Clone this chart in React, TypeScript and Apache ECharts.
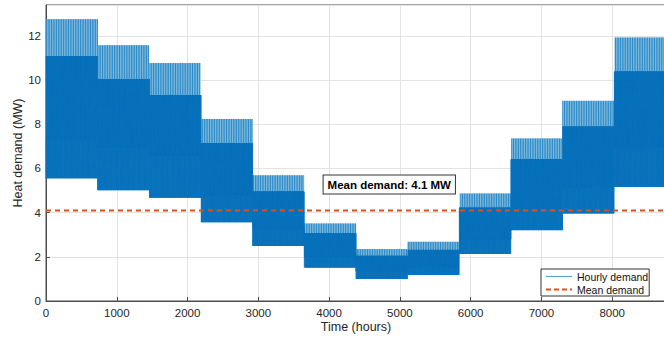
import React, { useEffect, useRef } from 'react';
import * as echarts from 'echarts';

// Twelve ~monthly blocks of 730 hours each (MW levels)
const hoursPerBlock = 730;
const totalHours = 8760;
const blockBase = [5.56, 5.02, 4.68, 3.57, 2.49, 1.52, 1.0, 1.18, 2.13, 3.21, 3.97, 5.17];
const blockMid = [7.37, 7.0, 6.6, 4.8, 3.3, 2.0, 1.35, 1.55, 2.8, 4.2, 5.2, 7.0];
const blockHigh = [11.09, 10.05, 9.32, 7.15, 4.95, 3.06, 2.04, 2.31, 4.22, 6.41, 7.89, 10.38];
const blockPeak = [12.76, 11.58, 10.77, 8.24, 5.69, 3.51, 2.35, 2.68, 4.87, 7.36, 9.06, 11.93];
// Daily profile as level index: 0 base, 1 mid, 2 high, 3 peak
const dailyLevel = [0, 1, 0, 2, 1, 2, 3, 2, 1, 2, 0, 2, 1, 2, 0, 2, 1, 2, 0, 2, 1, 2, 0, 1];
const meanDemand = 4.1;
const xTicks = { min: 0, max: totalHours, interval: 1000 };
const yTicks = { min: 0, max: 13.4, interval: 2 };

const FONT = '"Liberation Sans", Arial, Helvetica, sans-serif';

export default function App() {
  const ref = useRef<HTMLDivElement>(null);
  useEffect(() => {
    if (!ref.current) return;
    const chart = echarts.init(ref.current, null, { renderer: 'svg' });
    const levels = [blockBase, blockMid, blockHigh, blockPeak];
    const hourly: [number, number][] = [];
    for (let h = 0; h < totalHours; h++) {
      const b = Math.min(Math.floor(h / hoursPerBlock), 11);
      hourly.push([h, levels[dailyLevel[h % 24]][b]]);
    }
    // peak band per block (the thin daily peaks blend into a light band)
    const peakBands = blockHigh.map((hi, i) => [
      i * hoursPerBlock,
      Math.min((i + 1) * hoursPerBlock, totalHours),
      hi,
      blockPeak[i],
    ]);
    chart.setOption({
      animation: false,
      backgroundColor: '#fff',
      textStyle: { fontFamily: FONT },
      grid: {
        left: 46, top: 5, width: 620, height: 296,
        show: true, borderColor: '#4d4d4d', borderWidth: 1, backgroundColor: 'transparent',
        outerBoundsMode: 'none',
      },
      xAxis: {
        type: 'value', min: xTicks.min, max: xTicks.max, interval: xTicks.interval,
        name: 'Time (hours)', nameLocation: 'middle', nameGap: 19, nameMoveOverlap: false,
        nameTextStyle: { fontSize: 12.5, color: '#262626', fontFamily: FONT },
        axisLine: { show: true, lineStyle: { color: '#4d4d4d', width: 1 } },
        axisTick: { show: true, inside: true, length: 4, lineStyle: { color: '#4d4d4d' } },
        axisLabel: {
          fontSize: 11.5, color: '#262626', margin: 6, showMaxLabel: false, fontFamily: FONT,
          formatter: (v: number) => String(v),
        },
        splitLine: { show: true, lineStyle: { color: '#e3e3e3', width: 1 } },
      },
      yAxis: {
        type: 'value', min: yTicks.min, max: yTicks.max, interval: yTicks.interval,
        name: 'Heat demand (MW)', nameLocation: 'middle', nameGap: 22, nameMoveOverlap: false,
        nameTextStyle: { fontSize: 12.5, color: '#262626', fontFamily: FONT },
        axisLine: { show: true, lineStyle: { color: '#4d4d4d', width: 1 } },
        axisTick: { show: true, inside: true, length: 4, lineStyle: { color: '#4d4d4d' } },
        axisLabel: {
          fontSize: 11.5, color: '#262626', margin: 5, showMaxLabel: false, fontFamily: FONT,
          formatter: (v: number) => String(v),
        },
        splitLine: { show: true, lineStyle: { color: '#e3e3e3', width: 1 } },
      },
      legend: {
        orient: 'vertical', left: 541, top: 269,
        itemWidth: 26, itemHeight: 10, itemGap: 2,
        padding: [2, 1, 1, 4],
        backgroundColor: '#fff', borderColor: '#333', borderWidth: 1, borderRadius: 0,
        textStyle: { fontSize: 10.5, color: '#111', fontFamily: FONT },
        data: [
          {
            name: 'Hourly demand',
            itemStyle: { opacity: 0, borderWidth: 0, color: 'transparent' },
            lineStyle: { color: '#5aa6d2', width: 1.2 },
          },
          {
            name: 'Mean demand',
            itemStyle: { opacity: 0, borderWidth: 0, color: 'transparent' },
            lineStyle: { color: '#D95319', width: 2, type: [5, 3] },
          },
        ],
      },
      series: [
        {
          name: 'Peak band', type: 'custom', data: peakBands, z: 1, silent: true,
          encode: { x: [0, 1], y: [2, 3] },
          renderItem: (params: any, api: any) => {
            const p0 = api.coord([api.value(0), api.value(3)]);
            const p1 = api.coord([api.value(1), api.value(2)]);
            return {
              type: 'rect',
              shape: { x: p0[0], y: p0[1], width: p1[0] - p0[0], height: p1[1] - p0[1] },
              style: { fill: '#a9d7ec' },
            };
          },
        },
        {
          name: 'Hourly demand', type: 'line', data: hourly, showSymbol: false, symbol: 'none',
          lineStyle: { color: '#0b74bd', width: 0.55 }, itemStyle: { color: '#0072BD' },
          z: 2,
        },
        {
          name: 'Mean demand', type: 'line', data: [[0, meanDemand], [totalHours, meanDemand]],
          symbol: 'none', lineStyle: { color: '#D95319', width: 2, type: [5, 4] }, itemStyle: { color: '#D95319' },
          z: 3,
          markPoint: {
            symbol: 'rect', symbolSize: 0,
            data: [{ coord: [4850, 5.27] }],
            label: {
              show: true, position: 'inside', formatter: `Mean demand: ${meanDemand} MW`,
              fontWeight: 'bold', fontSize: 11.5, color: '#000', fontFamily: FONT,
              backgroundColor: '#fff', borderColor: '#333', borderWidth: 1, padding: [3, 4],
            },
          },
        },
      ],
    });
    return () => chart.dispose();
  }, []);
  return <div ref={ref} style={{ width: 664, height: 340, position: 'absolute', left: 0, top: 0 }} />;
}
